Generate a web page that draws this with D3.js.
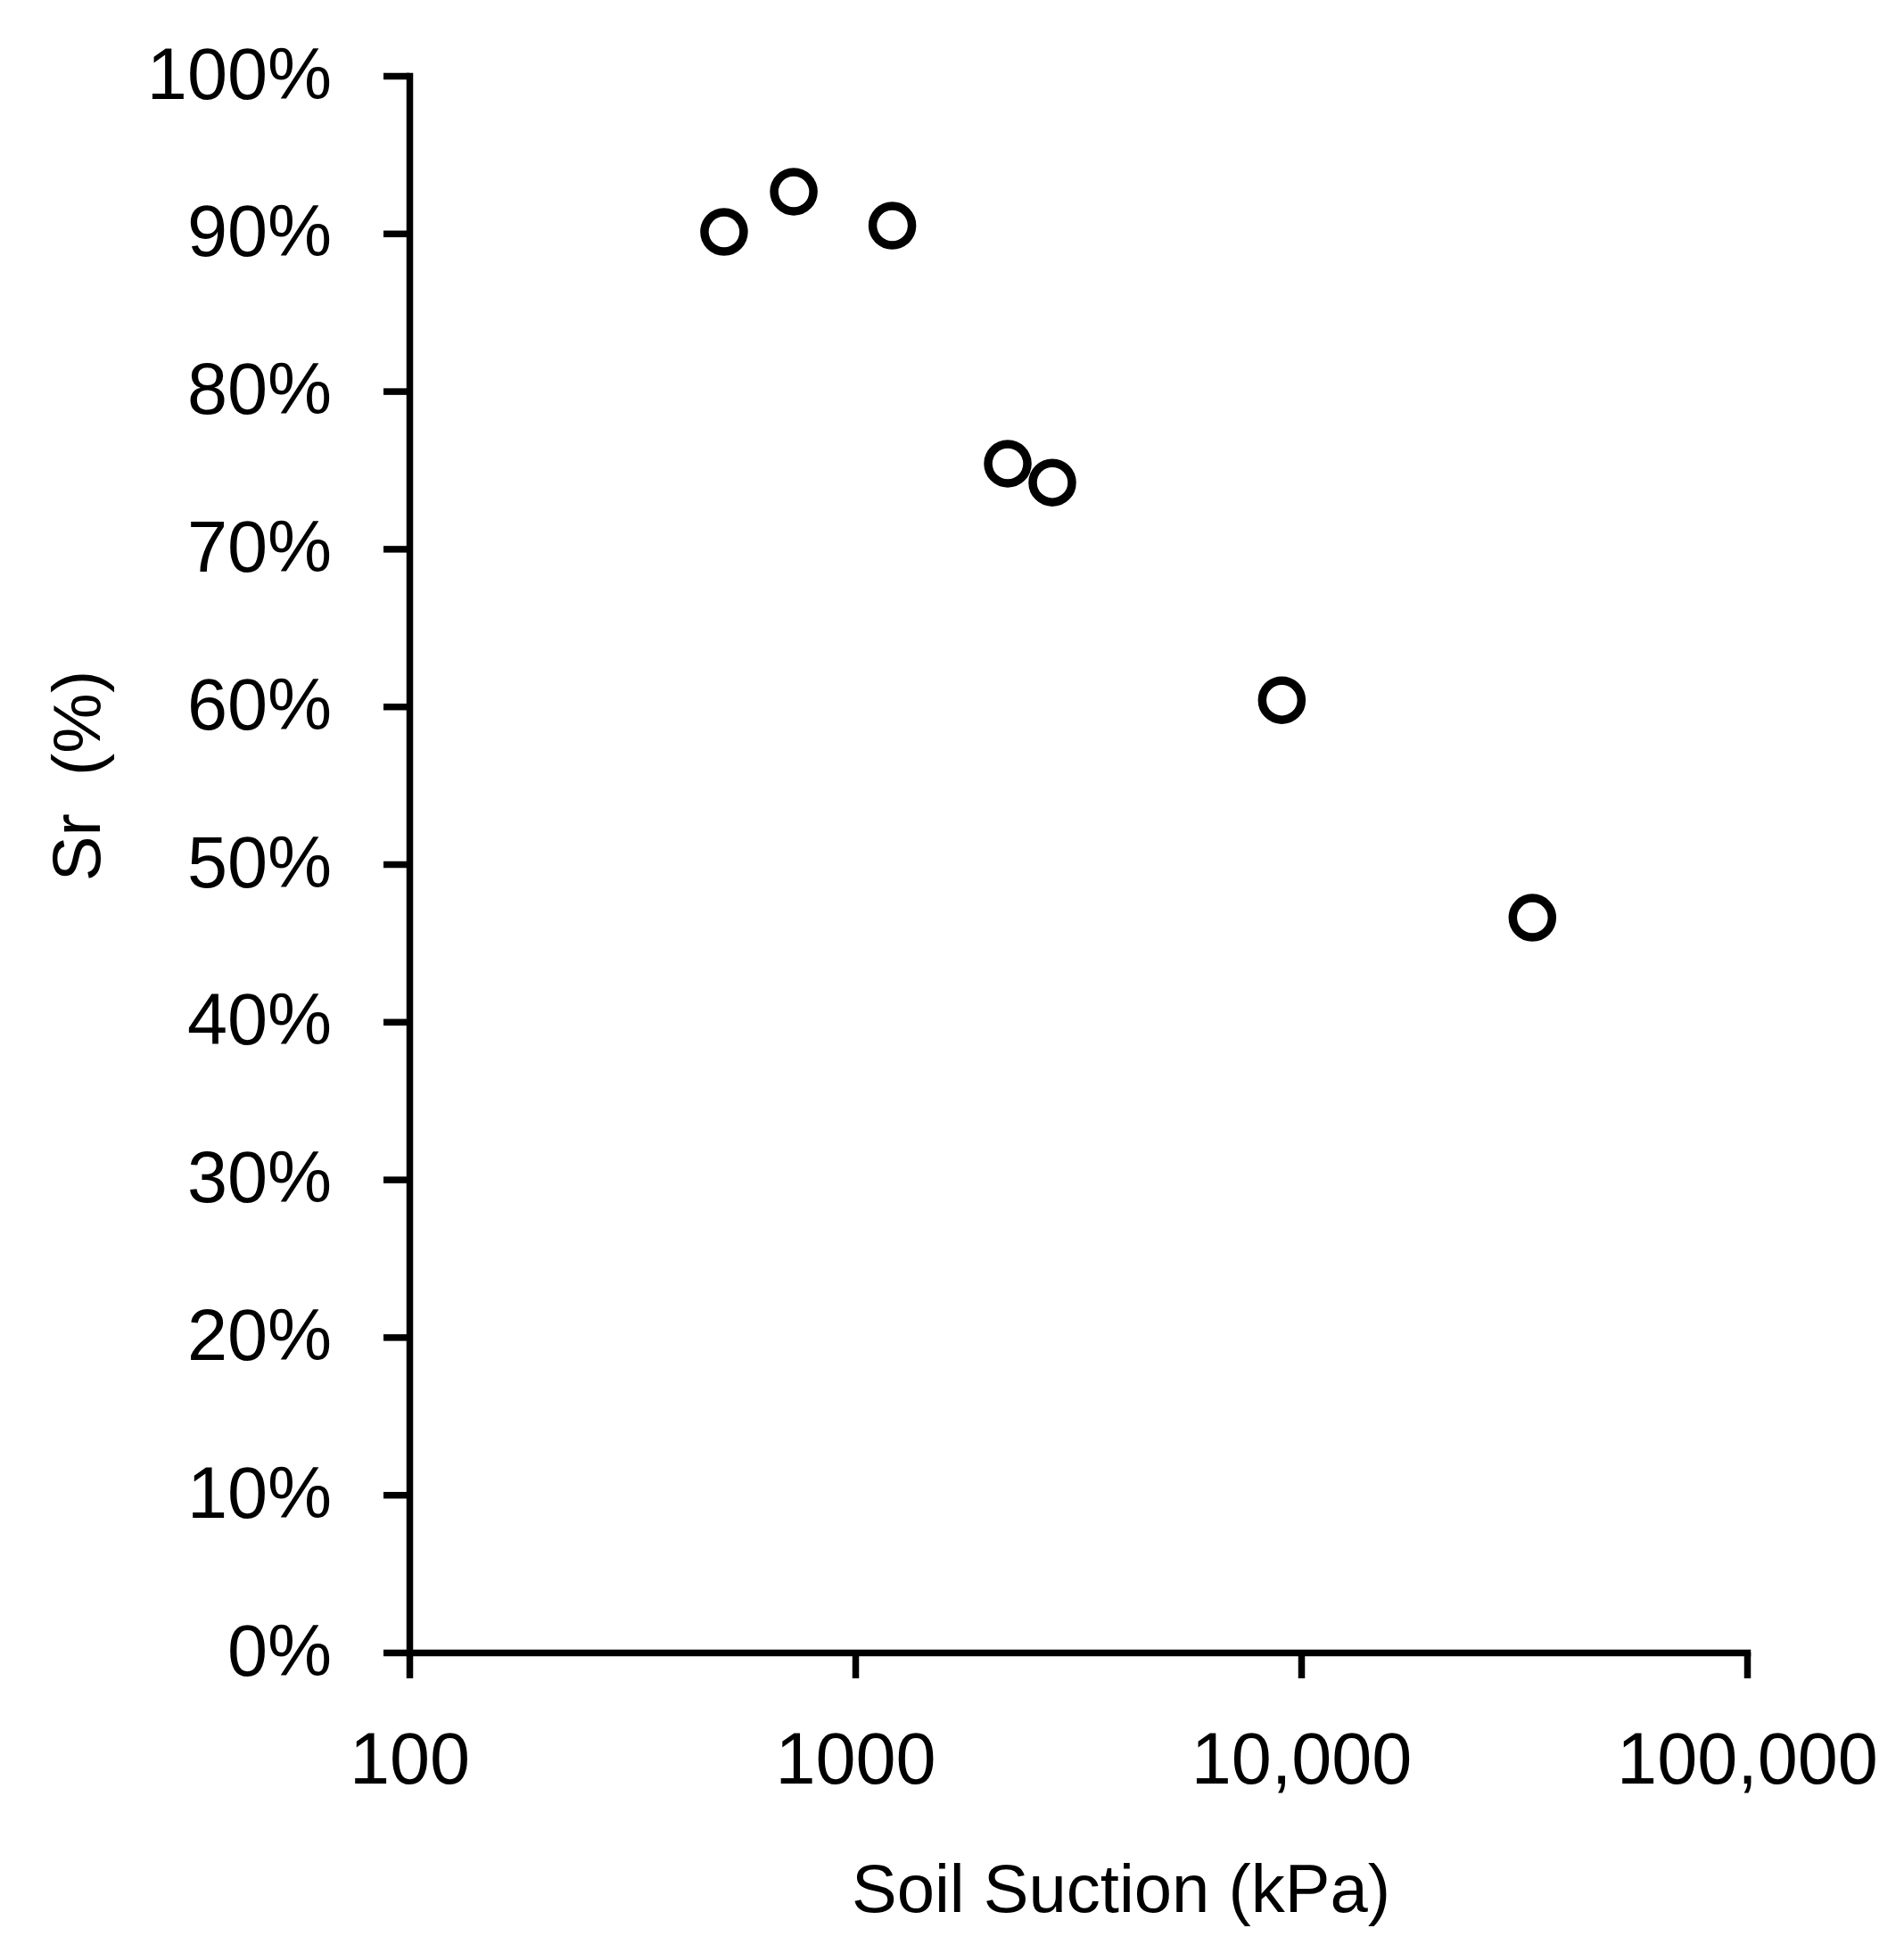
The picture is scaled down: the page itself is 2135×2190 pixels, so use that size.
<!DOCTYPE html>
<html>
<head>
<meta charset="utf-8">
<script src="https://cdn.jsdelivr.net/npm/d3@7"></script>
<style>
  html, body { margin: 0; padding: 0; background: #fff; }
  svg { display: block; }
  text { font-family: "Liberation Sans", Arial, sans-serif; fill: #000; }
</style>
</head>
<body>
<svg id="chart" width="2135" height="2190"></svg>
<script>
// Data
const suction = [508, 728, 1211, 2198, 2767, 9051, 33010];          // kPa
const saturation = [0.901, 0.9265, 0.905, 0.754, 0.742, 0.604, 0.466]; // Sr
const xTickValues = [100, 1000, 10000, 100000];
const xTickLabels = ["100", "1000", "10,000", "100,000"];
const yTickValues = [0, 0.1, 0.2, 0.3, 0.4, 0.5, 0.6, 0.7, 0.8, 0.9, 1.0];
const yTickLabels = ["0%", "10%", "20%", "30%", "40%", "50%", "60%", "70%", "80%", "90%", "100%"];
const xTitle = "Soil Suction (kPa)";
const yTitle = "Sr  (%)";

const svg = d3.select("#chart");
const plotLeft = 459, plotRight = 1959, plotTop = 85, plotBottom = 1853;

const x = d3.scaleLog().domain([100, 100000]).range([plotLeft, plotRight]);
const y = d3.scaleLinear().domain([0, 1]).range([plotBottom, plotTop]);

// Y axis
const yAxis = d3.axisLeft(y)
  .tickValues(yTickValues)
  .tickFormat((d, i) => yTickLabels[i])
  .tickSize(29)
  .tickSizeOuter(0)
  .tickPadding(58);
const gy = svg.append("g").attr("transform", `translate(${plotLeft},0)`).call(yAxis);
gy.selectAll("text").style("font-size", "81px").attr("dy", "0.31em");

// X axis
const xAxis = d3.axisBottom(x)
  .tickValues(xTickValues)
  .tickFormat((d, i) => xTickLabels[i])
  .tickSize(29)
  .tickSizeOuter(0)
  .tickPadding(60);
const gx = svg.append("g").attr("transform", `translate(0,${plotBottom})`).call(xAxis);
gx.selectAll("text").style("font-size", "81px").attr("dy", "0.71em");

[gx, gy].forEach(g => {
  g.selectAll(".domain").attr("stroke", "#000").attr("stroke-width", 7.5).attr("stroke-linecap", "square");
  g.selectAll(".tick line").attr("stroke", "#000").attr("stroke-width", 7.5);
  g.attr("font-family", null).attr("font-size", null);
});

// Points
svg.append("g").selectAll("circle")
  .data(suction.map((s, i) => [s, saturation[i]]))
  .join("circle")
  .attr("cx", d => x(d[0]))
  .attr("cy", d => y(d[1]))
  .attr("r", 22)
  .attr("fill", "none")
  .attr("stroke", "#000")
  .attr("stroke-width", 9.5);

// Axis titles
svg.append("text")
  .attr("x", 1257)
  .attr("y", 2144)
  .attr("text-anchor", "middle")
  .style("font-size", "76px")
  .text(xTitle);

svg.append("text")
  .attr("transform", "translate(112,870) rotate(-90)")
  .attr("text-anchor", "middle")
  .style("font-size", "76px")
  .style("white-space", "pre")
  .text(yTitle);
</script>
</body>
</html>
